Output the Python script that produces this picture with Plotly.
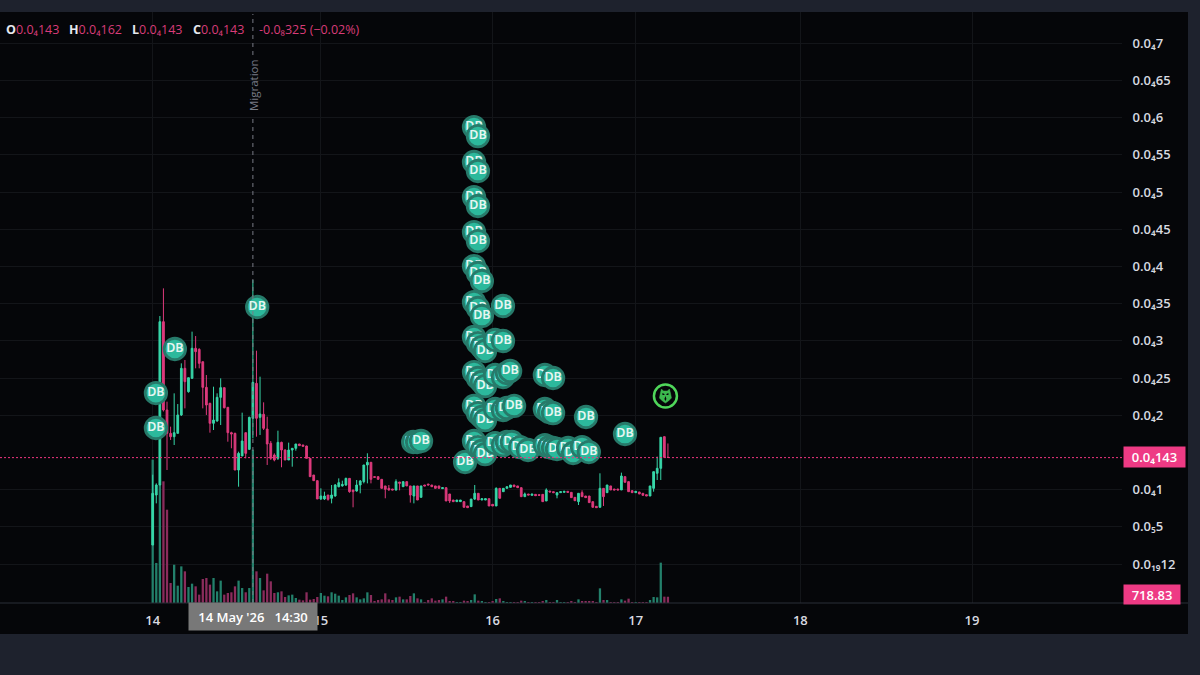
import plotly.graph_objects as go

# ---- data (prices in units of 1e-6) ----
opens = [2.55,9.27,10.62,32.57,20.70,17.56,17.11,17.56,20.03,26.30,
23.16,24.95,28.99,28.85,27.19,23.74,21.59,18.91,19.22,22.40,
23.70,21.06,17.65,17.56,12.63,14.52,17.65,15.41,19.58,24.28,
19.71,20.12,18.14,16.22,14.65,14.20,16.35,15.32,13.98,15.32,
15.55,16.13,16.00,15.86,14.20,11.96,11.20,8.74,8.74,9.27,
8.83,9.14,10.39,10.50,10.62,11.51,9.95,9.81,10.62,11.07,
13.31,13.67,11.74,11.74,11.38,10.49,10.17,10.08,9.95,11.02,
10.39,11.07,10.49,9.14,10.49,8.96,10.62,10.75,10.62,10.49,
10.49,10.13,10.26,9.41,8.60,8.38,8.38,8.38,7.80,7.71,
8.73,9.50,8.60,8.60,8.78,8.02,7.80,10.17,9.72,10.17,
10.30,10.62,10.49,10.26,9.05,9.41,9.23,9.36,9.32,9.36,
8.47,9.81,9.72,9.27,9.59,9.63,9.77,9.63,8.96,8.38,
9.59,9.14,9.14,8.38,7.75,7.62,10.17,9.59,10.49,10.08,
10.08,9.95,11.74,11.07,9.86,9.59,9.68,9.50,9.32,9.14,
10.17,12.19,12.86,17.12,14.34]
closes = [9.50,10.62,32.57,20.70,17.56,17.11,17.65,20.03,26.30,24.51,
25.04,28.99,28.54,26.97,23.74,21.37,18.91,19.35,22.40,23.70,
21.00,17.65,17.47,12.63,14.87,16.53,14.87,19.71,24.41,19.58,
20.16,18.23,16.13,14.20,13.98,16.35,15.32,13.98,15.32,15.55,
16.13,15.91,15.82,14.20,11.74,11.20,8.74,9.14,9.14,8.69,
9.27,10.62,10.93,10.70,11.51,9.72,9.72,10.62,11.16,13.31,
13.67,11.38,11.65,11.38,10.17,10.04,9.95,9.95,11.07,10.84,
11.07,10.49,9.27,10.49,8.60,10.49,10.49,10.62,10.39,10.17,
10.17,10.26,8.47,8.47,8.38,8.60,8.60,7.62,7.57,8.73,
9.50,8.60,8.78,8.78,7.80,7.80,10.17,8.83,10.17,10.39,
10.62,10.39,10.26,9.05,9.41,9.27,9.41,9.18,9.23,8.38,
9.95,9.68,9.59,9.59,9.72,9.77,9.63,8.92,8.51,9.50,
9.05,8.92,8.25,7.62,7.57,10.17,9.05,10.62,9.95,9.95,
9.95,11.83,10.98,9.72,9.59,9.77,9.41,9.23,9.14,10.49,
12.41,12.86,17.03,14.34,14.32]
highs = [12.0,10.84,33.33,37.05,21.82,18.46,22.94,21.50,26.97,27.42,
25.04,31.23,30.64,29.0,27.19,25.40,21.68,23.83,22.94,24.95,
23.70,21.06,17.78,17.65,15.10,20.34,17.65,19.80,38.17,28.67,
25.18,21.73,19.80,16.53,14.87,17.92,16.44,15.41,16.31,15.55,
16.13,16.13,16.00,15.90,14.20,11.96,11.20,10.17,9.72,9.27,
10.62,10.75,11.51,11.20,11.60,11.51,9.95,11.29,11.29,13.31,
14.88,13.67,11.74,11.74,11.38,10.49,10.62,10.08,11.38,11.02,
11.07,11.07,10.49,10.49,10.49,10.49,10.62,10.75,10.62,10.49,
10.49,10.26,10.26,9.41,8.60,8.60,8.60,8.38,7.80,8.73,
10.62,9.50,8.78,8.78,8.78,8.02,10.30,10.17,10.17,10.39,
10.62,10.62,10.49,10.26,9.60,9.41,9.41,9.36,9.32,9.36,
10.17,9.81,9.72,9.59,9.72,9.77,9.77,9.63,8.96,9.50,
9.90,9.14,9.14,8.38,7.75,12.19,10.20,10.62,10.49,10.08,
10.08,12.28,11.74,11.07,9.86,9.77,9.68,9.50,9.32,10.49,
12.41,14.43,17.03,17.12,16.20]
lows = [2.55,8.15,10.62,20.50,12.63,16.67,15.99,17.56,19.89,20.92,
23.03,24.95,26.30,26.30,20.92,20.03,17.65,18.01,19.13,18.68,
20.92,16.44,15.55,12.63,10.39,14.52,14.20,15.32,16.89,17.11,
17.34,18.01,13.31,13.98,13.80,13.98,13.00,13.98,13.98,13.08,
15.23,15.91,15.82,14.20,11.74,11.20,8.74,8.60,8.60,8.51,
8.15,9.05,10.30,10.40,10.50,9.58,7.62,9.72,9.50,10.84,
10.84,10.84,11.65,11.38,10.17,8.83,9.86,9.95,9.86,9.90,
10.39,10.49,8.25,8.15,8.60,8.96,10.49,10.62,10.39,10.17,
10.17,10.13,8.47,8.20,8.38,8.38,8.38,7.62,7.57,7.71,
8.60,8.60,8.60,8.60,7.80,7.80,7.80,8.83,9.72,10.17,
10.30,10.39,10.26,9.05,9.05,9.27,9.23,9.18,9.23,8.38,
8.47,9.68,9.59,8.83,9.59,9.63,9.63,8.92,8.51,7.93,
9.05,8.92,8.25,7.62,7.57,7.62,7.80,9.59,9.95,9.95,
9.95,9.95,10.98,9.72,9.59,9.59,9.41,9.23,9.14,9.14,
9.72,11.29,11.29,14.34,14.30]
volumes = [16470,4600,13600,13980,10720,2300,4400,1990,4210,3640,
1840,2220,1915,960,2760,2870,2110,2870,1340,2570,
960,1150,1230,1915,2570,1720,1230,1720,17620,3640,
2870,1455,3370,2490,1150,1230,1340,690,880,960,
575,383,306,1230,383,460,690,1150,843,766,
1230,1070,843,345,650,920,1110,650,420,535,
1225,920,230,345,420,1110,420,345,650,730,
420,420,805,1110,535,420,115,345,535,270,
345,420,730,155,155,115,115,270,155,345,
995,270,155,115,115,155,460,535,155,115,
115,115,115,270,190,115,115,115,115,155,
345,115,115,345,115,115,115,155,115,420,
190,155,230,190,115,1685,345,345,115,115,
115,420,270,500,115,115,115,115,115,345,
690,650,4635,730,718.83]

bars = list(range(len(opens)))
day_positions = [0, 47, 95, 135, 181, 229]
day_labels = ["14", "15", "16", "17", "18", "19"]
price_ticks = [0, 5, 10, 20, 25, 30, 35, 40, 45, 50, 55, 60, 65, 70]
price_labels = ["0.0₁₉12", "0.0₅5", "0.0₄1", "0.0₄2", "0.0₄25", "0.0₄3", "0.0₄35",
                "0.0₄4", "0.0₄45", "0.0₄5", "0.0₄55", "0.0₄6", "0.0₄65", "0.0₄7"]
last_price = 14.3
migration_bar = 28

db_bar = [0.9, 0.9, 6.2, 29.2, 72.8, 73.9, 75.0,
    89.8, 90.9, 89.8, 90.9, 89.8, 90.9, 89.8, 90.9,
    89.8, 90.9, 92.0,
    89.8, 90.9, 92.0, 97.9,
    89.8, 90.9, 92.0, 92.9, 95.7, 97.9,
    89.8, 90.9, 92.0, 92.9, 95.7, 97.9, 99.0, 99.9, 109.6, 111.9,
    89.8, 90.9, 92.0, 92.9, 95.7, 97.9, 99.0, 101.0, 109.6, 110.8, 111.9, 121.1,
    87.3, 89.8, 90.9, 92.0, 92.9, 95.7, 97.9, 99.0, 100.4, 102.7, 104.9,
    109.6, 110.8, 111.9, 113.0, 116.1, 117.5, 120.0, 121.9, 132.0]
db_price = [18.28, 22.98, 28.90, 34.54, 16.40, 16.40, 16.53,
    58.73, 57.52, 54.03, 52.82, 49.32, 48.12, 44.62, 43.41,
    40.05, 39.11, 38.04,
    35.21, 34.41, 33.33, 34.68,
    30.51, 29.70, 29.16, 28.63, 30.11, 29.97,
    25.80, 25.00, 24.46, 23.92, 25.40, 25.13, 25.67, 25.94, 25.40, 25.00,
    21.24, 20.29, 19.76, 19.35, 20.83, 20.70, 20.97, 21.24, 20.83, 20.43, 20.29, 19.76,
    13.71, 16.53, 15.72, 15.19, 14.78, 16.26, 15.99, 16.40, 16.40, 15.72, 15.32,
    15.99, 15.72, 15.59, 15.46, 15.59, 14.92, 15.72, 15.05, 17.47]
owl_bar = 143.3
owl_price = 22.58

# ---- styles ----
W, H = 1200, 675
PL, PR, PT, PB = 0, 1122, 12, 603        # plot rectangle in page pixels
FRAME, PANEL = "#1e222d", "#050609"
GRID = "#131519"
UP, DOWN = "#37d6a8", "#dd3a7c"
UPV, DOWNV = "#23806b", "#8a2c5c"
TAG = "#ee3a84"
FONT = "Open Sans, DejaVu Sans"
BAR_PX = 3.578
X0 = -(152.7 - PL) / BAR_PX


def fx(px):
    return (px - PL) / (PR - PL)


def fy(py):
    return (PB - py) / (PB - PT)


fig = go.Figure()

fig.add_trace(go.Bar(x=bars, y=volumes, yaxis="y", xaxis="x",
                     marker=dict(color=[UPV if c >= o else DOWNV for o, c in zip(opens, closes)], line_width=0),
                     showlegend=False, hoverinfo="skip"))

fig.add_trace(go.Candlestick(x=bars, open=opens, high=highs, low=lows, close=closes,
                             yaxis="y2", xaxis="x", whiskerwidth=0,
                             increasing=dict(line=dict(color=UP, width=1), fillcolor=UP),
                             decreasing=dict(line=dict(color=DOWN, width=1), fillcolor=DOWN),
                             showlegend=False, hoverinfo="skip"))

for b, p in zip(db_bar, db_price):
    fig.add_trace(go.Scatter(x=[b], y=[p], yaxis="y2", xaxis="x", mode="markers+text",
                             marker=dict(size=21.5, color="#2cb99c", line=dict(color="#277a6a", width=2.8)),
                             text=["DB"], textposition="middle center",
                             textfont=dict(family="Noto Sans", size=12.5, color="#e6f6f2", weight=600),
                             showlegend=False, hoverinfo="skip", cliponaxis=False))

fig.add_trace(go.Scatter(x=[owl_bar], y=[owl_price], yaxis="y2", xaxis="x", mode="markers",
                         marker=dict(size=23, symbol="circle-open", color="#4fd65a", line=dict(color="#4fd65a", width=2.5)),
                         showlegend=False, hoverinfo="skip"))

shapes = [
    dict(type="rect", xref="paper", yref="paper", x0=fx(PR), x1=fx(1188), y0=fy(634), y1=1,
         fillcolor=PANEL, line_width=0, layer="below"),
    dict(type="rect", xref="paper", yref="paper", x0=0, x1=fx(1188), y0=fy(634), y1=0,
         fillcolor=PANEL, line_width=0, layer="below"),
    dict(type="line", xref="paper", yref="paper", x0=0, x1=fx(1188), y0=0, y1=0,
         line=dict(color="#2a2e39", width=1), layer="above"),
    dict(type="line", xref="paper", yref="y2", x0=0, x1=1, y0=last_price, y1=last_price,
         line=dict(color="#f0357f", width=1, dash="2px,2px")),
    dict(type="line", xref="x", yref="paper", x0=migration_bar, x1=migration_bar, y0=fy(55), y1=fy(14),
         line=dict(color="#787b86", width=1, dash="4px,4px")),
    dict(type="line", xref="x", yref="paper", x0=migration_bar, x1=migration_bar, y0=0, y1=fy(115),
         line=dict(color="#787b86", width=1, dash="4px,4px")),
    # owl glyph inside the ring: head with ear tufts, wings, dark eyes
    dict(type="path", xref="x", yref="y2", xsizemode="pixel", ysizemode="pixel",
         xanchor=owl_bar, yanchor=owl_price,
         path="M -4 7 L -2 5 L 2 5 L 4 7 L 5 3 L 6 -2 L 3 -5 L 0 -7 L -3 -5 L -6 -2 L -5 3 Z",
         fillcolor="#3cb84e", line=dict(color="#3cb84e", width=0.5)),
    dict(type="path", xref="x", yref="y2", xsizemode="pixel", ysizemode="pixel",
         xanchor=owl_bar, yanchor=owl_price,
         path="M -3 3 L -1 2 L -1 1 L -3 1 Z M 3 3 L 1 2 L 1 1 L 3 1 Z M 0 0 L 1 -3 L 0 -5 L -1 -3 Z",
         fillcolor=PANEL, line_width=0),
]

annotations = []


def note(text, px, py, color, size=12.5, weight=400, **kw):
    annotations.append(dict(xref="paper", yref="paper", x=fx(px), y=fy(py), text=text, showarrow=False,
                            xanchor=kw.pop("xanchor", "left"), yanchor=kw.pop("yanchor", "middle"),
                            font=dict(family=FONT, size=size, color=color, weight=weight), **kw))


LEG = "#d83c78"
for letter, value, px in [("O", "0.0₄143", 5), ("H", "0.0₄162", 68), ("L", "0.0₄143", 131), ("C", "0.0₄143", 192)]:
    note(f'<span style="color:#e6e8ee"><b>{letter}</b></span><span style="color:{LEG}">{value}</span>',
         px, 29, LEG, borderpad=0)
note("-0.0₈325 (−0.02%)", 258, 29, LEG, borderpad=0)
note("Migration", 253, 85, "#787b86", size=11.5, xanchor="center", textangle=-90)
note("0.0₄143", 1123, 457, "#ffffff", size=13, weight=600, width=61, height=20, bgcolor=TAG, align="center", borderpad=0)
note("718.83", 1123, 594, "#ffffff", size=13, weight=600, width=56, height=19, bgcolor=TAG, align="center", borderpad=0)
note("14 May '26   14:30", 188, 616.5, "#ffffff", size=13, weight=600, width=128, height=27, bgcolor="#787878",
     align="center", borderpad=0)

fig.update_layout(
    width=W, height=H, margin=dict(l=PL, r=W - PR, t=PT, b=H - PB, pad=0, autoexpand=False),
    paper_bgcolor=FRAME, plot_bgcolor=PANEL, showlegend=False, bargap=0.36,
    font=dict(family=FONT),
    xaxis=dict(range=[X0, X0 + (PR - PL) / BAR_PX], tickmode="array", tickvals=day_positions, ticktext=day_labels,
               showgrid=True, gridcolor=GRID, gridwidth=1, zeroline=False, showline=False,
               ticks="outside", ticklen=5, tickcolor=PANEL,
               tickfont=dict(family=FONT, size=13, color="#d8dae0", weight=600),
               rangeslider=dict(visible=False)),
    yaxis=dict(range=[0, 67900], visible=False, showgrid=False, zeroline=False),
    yaxis2=dict(range=[(564 - PB) * 5 / 37.2, (564 - PT) * 5 / 37.2], overlaying="y", side="right",
                tickmode="array", tickvals=price_ticks, ticktext=price_labels,
                showgrid=True, gridcolor=GRID, gridwidth=1, zeroline=False, showline=False,
                ticks="outside", ticklen=7, tickcolor=PANEL,
                tickfont=dict(family=FONT, size=13, color="#d8dae0", weight=600)),
    shapes=shapes, annotations=annotations,
)

fig.write_html("out.html", config={"displayModeBar": False},
               post_script="document.body.style.margin='0';document.body.style.overflow='hidden';")
